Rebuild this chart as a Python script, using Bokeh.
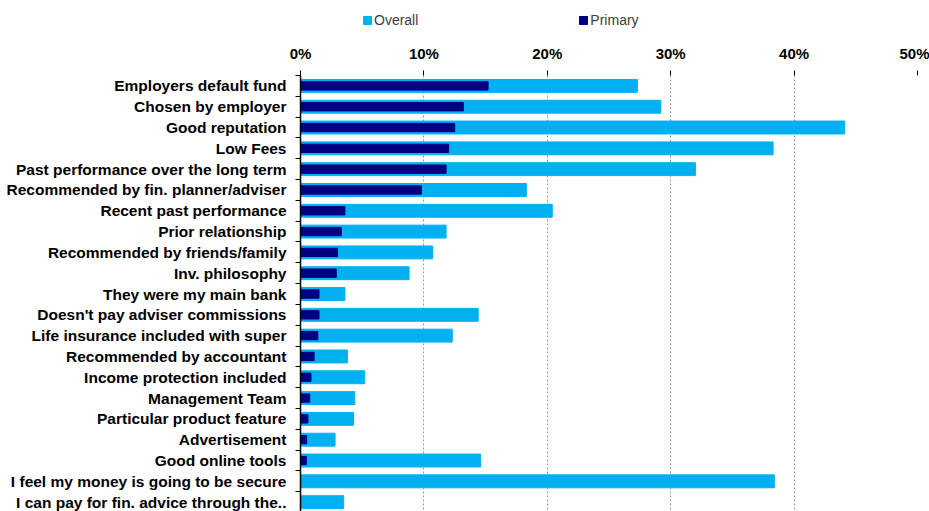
from bokeh.plotting import figure
from bokeh.layouts import column
from bokeh.models import Range1d, FixedTicker, NumeralTickFormatter, Legend, LegendItem, ColumnDataSource, LinearAxis, Grid
from bokeh.embed import file_html
from bokeh.resources import INLINE

categories = [
    "Employers default fund",
    "Chosen by employer",
    "Good reputation",
    "Low Fees",
    "Past performance over the long term",
    "Recommended by fin. planner/adviser",
    "Recent past performance",
    "Prior relationship",
    "Recommended by friends/family",
    "Inv. philosophy",
    "They were my main bank",
    "Doesn't pay adviser commissions",
    "Life insurance included with super",
    "Recommended by accountant",
    "Income protection included",
    "Management Team",
    "Particular product feature",
    "Advertisement",
    "Good online tools",
    "I feel my money is going to be secure",
    "I can pay for fin. advice through the..",
]
overall = [0.273, 0.292, 0.441, 0.383, 0.320, 0.183, 0.204, 0.118, 0.107, 0.088,
           0.036, 0.144, 0.123, 0.038, 0.052, 0.044, 0.043, 0.028, 0.146, 0.384, 0.035]
primary = [0.152, 0.132, 0.125, 0.120, 0.118, 0.098, 0.036, 0.033, 0.030, 0.029,
           0.015, 0.015, 0.014, 0.011, 0.0085, 0.0075, 0.006, 0.005, 0.0047, 0.0, 0.0]
series_names = ["Overall", "Primary"]
x_ticks = [0, 0.1, 0.2, 0.3, 0.4, 0.5]

C_OVERALL = "#00B0F0"
C_PRIMARY = "#000080"

idx = list(range(len(categories)))
src = ColumnDataSource(dict(y=idx, overall=overall, primary=primary))

p = figure(width=929, height=471, output_backend="svg", toolbar_location=None,
           x_range=Range1d(0, 0.5), y_range=Range1d(20.45, -0.5),
           x_axis_location=None, y_axis_location=None,
           min_border_left=300, min_border_right=12, min_border_top=35, min_border_bottom=0)
p.outline_line_color = None

p.hbar(y="y", left=0, right="overall", height=0.62, color=C_OVERALL, source=src)
p.hbar(y="y", left=0, right="primary", height=0.40, color=C_PRIMARY, source=src)

# top axis
xa = LinearAxis(ticker=FixedTicker(ticks=x_ticks), formatter=NumeralTickFormatter(format="0%"))
xa.axis_line_color = None
xa.major_tick_out = 5
xa.major_tick_in = 0
xa.minor_tick_out = 0
xa.minor_tick_in = 0
xa.major_tick_line_color = "black"
xa.major_label_standoff = 9
xa.major_label_text_font = "Liberation Sans"
xa.major_label_text_font_style = "bold"
xa.major_label_text_font_size = "15px"
xa.major_label_text_color = "black"
p.add_layout(xa, "above")

# left axis
ya = LinearAxis(ticker=FixedTicker(ticks=idx, minor_ticks=[i - 0.5 for i in range(len(categories) + 1)]))
ya.major_label_overrides = {i: c for i, c in enumerate(categories)}
ya.major_tick_out = 0
ya.major_tick_in = 0
ya.minor_tick_out = 5
ya.minor_tick_in = 0
ya.minor_tick_line_color = "black"
ya.axis_line_color = "black"
ya.axis_line_width = 1.5
ya.major_label_standoff = 9
ya.major_label_text_font = "Liberation Sans"
ya.major_label_text_font_style = "bold"
ya.major_label_text_font_size = "15.5px"
ya.major_label_text_color = "black"
p.add_layout(ya, "left")

p.xgrid.visible = False
p.ygrid.visible = False
g = Grid(dimension=0, ticker=FixedTicker(ticks=x_ticks))
g.grid_line_color = "#999999"
g.grid_line_dash = "2 2"
g.grid_line_width = 1
p.add_layout(g)

# legend strip
nan = float("nan")
lf = figure(width=929, height=40, output_backend="svg", toolbar_location=None,
            x_range=Range1d(0, 1), y_range=Range1d(0, 1),
            x_axis_location=None, y_axis_location=None,
            min_border=0)
lf.outline_line_color = None
lf.xgrid.visible = False
lf.ygrid.visible = False
lr1 = lf.hbar(y=[nan], left=[nan], right=[nan], height=0.5, color=C_OVERALL)
lr2 = lf.hbar(y=[nan], left=[nan], right=[nan], height=0.5, color=C_PRIMARY)
legend = Legend(items=[LegendItem(label=series_names[0], renderers=[lr1]),
                       LegendItem(label=series_names[1], renderers=[lr2])],
                orientation="horizontal", location=(62, 12))
legend.glyph_width = 10
legend.glyph_height = 10
legend.label_standoff = 2
legend.spacing = 160
legend.padding = 0
legend.margin = 0
legend.border_line_color = None
legend.background_fill_alpha = 0
legend.label_text_font = "Liberation Sans"
legend.label_text_font_size = "14px"
legend.label_text_color = "#404040"
legend.label_height = 14
lf.add_layout(legend, "center")

layout = column(lf, p, spacing=0)
open("out.html", "w").write(file_html(layout, INLINE))
